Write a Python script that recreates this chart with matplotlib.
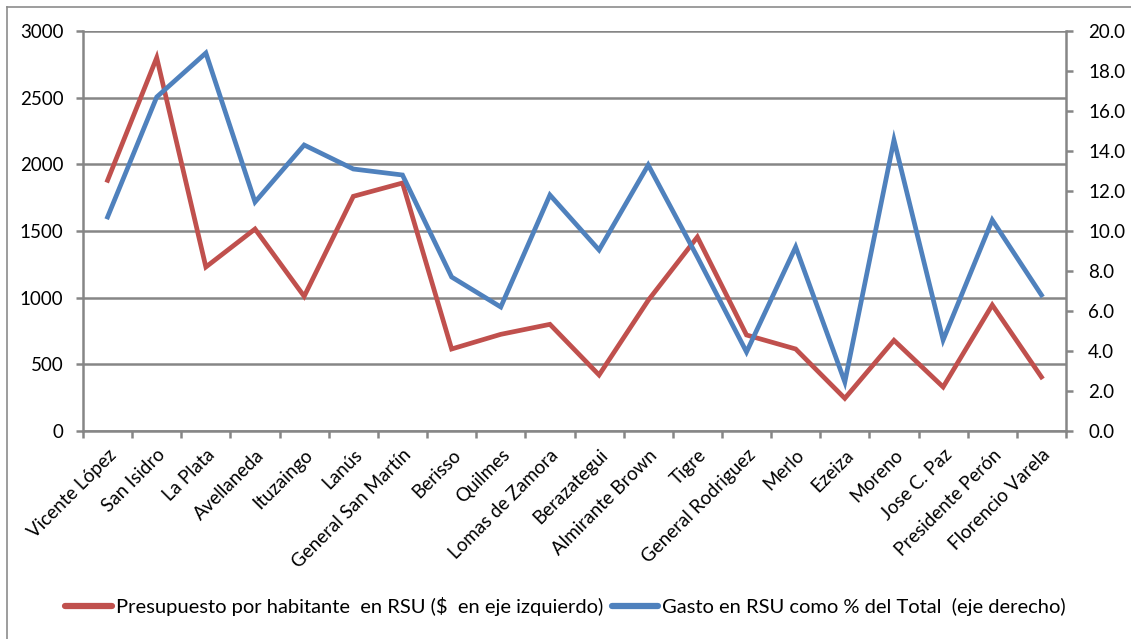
import matplotlib
matplotlib.use("Agg")
import matplotlib.pyplot as plt
import matplotlib.transforms as mtransforms
from matplotlib.lines import Line2D
import numpy as np

plt.rcParams['font.family'] = ['Lato', 'DejaVu Sans']

municipios = ["Vicente López", "San Isidro", "La Plata", "Avellaneda", "Ituzaingo",
              "Lanús", "General San Martín", "Berisso", "Quilmes", "Lomas de Zamora",
              "Berazategui", "Almirante Brown", "Tigre", "General Rodriguez", "Merlo",
              "Ezeiza", "Moreno", "Jose C. Paz", "Presidente Perón", "Florencio Varela"]
presupuesto = [1880, 2800, 1230, 1515, 1010, 1760, 1860, 615, 725, 800,
               420, 980, 1455, 720, 615, 245, 680, 330, 945, 405]
gasto_pct = [10.7, 16.7, 18.9, 11.45, 14.3, 13.1, 12.8, 7.7, 6.2, 11.8,
             9.05, 13.3, 8.7, 3.95, 9.2, 2.45, 14.55, 4.55, 10.55, 6.8]
left_ticks = [0, 500, 1000, 1500, 2000, 2500, 3000]
right_ticks = [0, 2, 4, 6, 8, 10, 12, 14, 16, 18, 20]

label_red = "Presupuesto por habitante  en RSU ($  en eje izquierdo)"
label_blue = "Gasto en RSU como % del Total  (eje derecho)"

RED = "#C0504D"
BLUE = "#4F81BD"
GRAY = "#868686"

W, H = 1131, 639
fig = plt.figure(figsize=(W / 100, H / 100), dpi=100)

# outer chart frame (only top and left visible in the reference)
fig.add_artist(Line2D([7 / W, 1.2], [1 - 7 / H, 1 - 7 / H], color="#8c8c8c", lw=1.2,
                      transform=fig.transFigure))
fig.add_artist(Line2D([7 / W, 7 / W], [1 - 7 / H, -0.2], color="#8c8c8c", lw=1.2,
                      transform=fig.transFigure))

ax = fig.add_axes([83 / W, 1 - 431 / H, (1066 - 83) / W, 400 / H])
ax2 = ax.twinx()

x = np.arange(len(municipios))
ax.plot(x, presupuesto, color=RED, lw=3.4, solid_joinstyle="miter", zorder=3)
ax2.plot(x, gasto_pct, color=BLUE, lw=3.4, solid_joinstyle="miter", zorder=3)

ax.set_xlim(-0.5, len(municipios) - 0.5)
ax.set_ylim(0, 3000)
ax2.set_ylim(0, 20)
ax.set_yticks(left_ticks)
ax.set_yticklabels([str(v) for v in left_ticks])
ax2.set_yticks(right_ticks)
ax2.set_yticklabels([f"{v:.1f}" for v in right_ticks])

ax.grid(axis="y", color=GRAY, lw=1.8)
ax.set_axisbelow(True)

# category boundaries as tick marks, labels at centers
ax.set_xticks(np.arange(-0.5, len(municipios) + 0.5, 1))
ax.set_xticklabels([])
ax.set_xticks(x, minor=True)
ax.set_xticklabels(municipios, minor=True, rotation=45, ha="right",
                   rotation_mode="anchor", fontsize=13.5)
shift = mtransforms.ScaledTranslation(5 / 100, 0, fig.dpi_scale_trans)
for lab in ax.get_xticklabels(minor=True):
    lab.set_transform(lab.get_transform() + shift)
ax.tick_params(axis="x", which="minor", length=0, pad=11)
ax.tick_params(axis="x", which="major", length=5, width=1.8, color=GRAY)
ax.tick_params(axis="y", length=5, width=1.8, color=GRAY, labelsize=13.5, pad=9)
ax2.tick_params(axis="y", length=5, width=1.8, color=GRAY, labelsize=13.5, pad=11)

for a in (ax, ax2):
    for s in a.spines.values():
        s.set_visible(False)
ax.spines["left"].set_visible(True)
ax.spines["bottom"].set_visible(True)
ax2.spines["right"].set_visible(True)
for s in (ax.spines["left"], ax.spines["bottom"], ax2.spines["right"]):
    s.set_color(GRAY)
    s.set_linewidth(1.8)

handles = [Line2D([], [], color=RED, lw=4.5, solid_capstyle="round"),
           Line2D([], [], color=BLUE, lw=4.5, solid_capstyle="round")]
fig.legend(handles, [label_red, label_blue], loc="center", ncol=2,
           bbox_to_anchor=(0.5, 1 - 607 / H), frameon=False, fontsize=14.5,
           handlelength=2.3, handletextpad=0.2, columnspacing=0.45)

fig.savefig("out.png", dpi=100)
